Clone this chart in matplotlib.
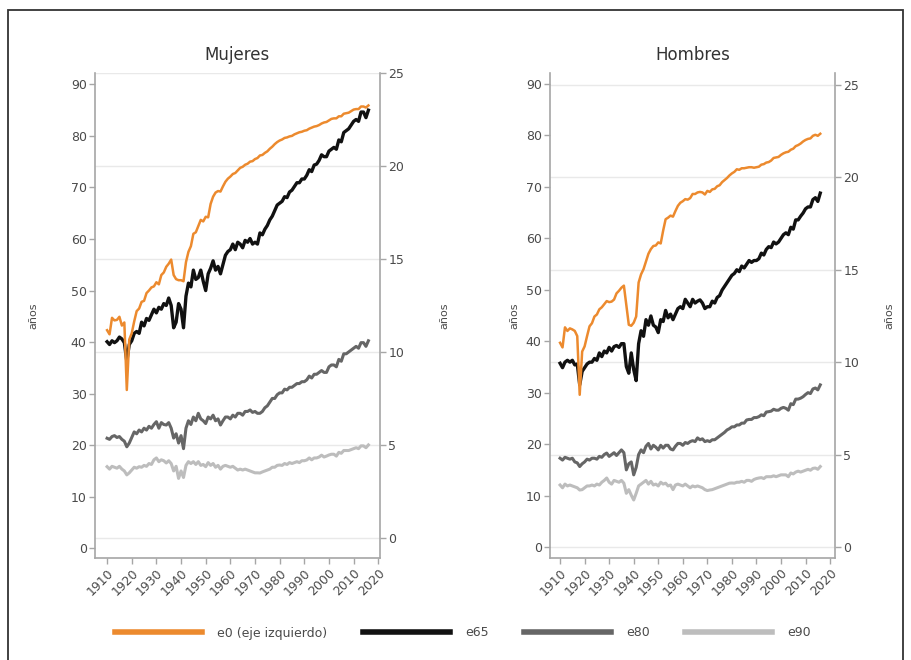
import matplotlib
matplotlib.use("Agg")
import matplotlib.pyplot as plt

# --- DATA: esperanza de vida, España 1910-2016 ---
years = list(range(1910, 2017))

mujeres_e0 = [
    42.3, 41.5, 44.7, 44.2, 44.3, 44.9, 43.2, 43.8, 30.7, 40.5,
    41.7, 44.0, 46.0, 46.5, 47.8, 48.0, 49.5, 50.0, 50.6, 50.8,
    51.6, 51.2, 53.0, 53.5, 54.6, 55.2, 56.0, 53.0, 52.2, 52.0,
    52.0, 51.8, 55.5, 57.5, 58.6, 61.0, 61.3, 62.5, 63.7, 63.4,
    64.3, 64.2, 66.8, 68.2, 69.0, 69.3, 69.2, 70.2, 71.1, 71.7,
    72.1, 72.6, 72.8, 73.3, 73.8, 74.0, 74.4, 74.6, 75.0, 75.1,
    75.5, 75.7, 76.2, 76.3, 76.7, 77.0, 77.5, 77.9, 78.4, 78.8,
    79.1, 79.3, 79.6, 79.7, 79.9, 80.0, 80.3, 80.5, 80.7, 80.8,
    81.0, 81.1, 81.4, 81.6, 81.8, 81.9, 82.1, 82.4, 82.6, 82.7,
    83.0, 83.3, 83.4, 83.4, 83.8, 83.8, 84.3, 84.4, 84.5, 84.8,
    85.1, 85.2, 85.2, 85.7, 85.7, 85.5, 85.9]
mujeres_e65 = [
    10.55, 10.4, 10.6, 10.5, 10.6, 10.8, 10.7, 10.5, 9.5, 10.4,
    10.6, 11.0, 11.1, 11.0, 11.6, 11.4, 11.8, 11.7, 12.0, 12.3,
    12.1, 12.4, 12.3, 12.6, 12.5, 12.9, 12.5, 11.3, 11.6, 12.6,
    12.3, 11.3, 13.0, 13.7, 13.5, 14.4, 13.9, 14.0, 14.4, 13.8,
    13.3, 14.2, 14.5, 14.9, 14.4, 14.6, 14.2, 14.7, 15.2, 15.4,
    15.5, 15.8, 15.5, 15.9, 15.8, 15.6, 16.0, 15.9, 16.1, 15.8,
    15.9, 15.8, 16.4, 16.3, 16.6, 16.8, 17.1, 17.3, 17.6, 17.9,
    18.0, 18.1, 18.35, 18.3, 18.6, 18.7, 18.9, 19.1, 19.1, 19.3,
    19.3, 19.5, 19.8, 19.7, 20.05, 20.1, 20.3, 20.6, 20.5, 20.5,
    20.8, 20.9, 21.0, 20.9, 21.4, 21.3, 21.8, 21.9, 22.0, 22.2,
    22.4, 22.5, 22.4, 22.9, 22.9, 22.6, 23.0]
mujeres_e80 = [
    5.36, 5.3, 5.45, 5.5, 5.4, 5.45, 5.3, 5.2, 4.9, 5.1,
    5.4, 5.7, 5.6, 5.8, 5.7, 5.9, 5.8, 6.0, 5.9, 6.1,
    6.25, 5.9, 6.2, 6.1, 6.07, 6.2, 5.9, 5.37, 5.6, 5.1,
    5.5, 4.8, 5.9, 6.3, 6.1, 6.5, 6.3, 6.7, 6.4, 6.3,
    6.15, 6.5, 6.4, 6.6, 6.3, 6.4, 6.07, 6.3, 6.5, 6.5,
    6.4, 6.6, 6.5, 6.7, 6.7, 6.6, 6.8, 6.8, 6.88, 6.75,
    6.8, 6.7, 6.7, 6.8, 7.0, 7.1, 7.3, 7.5, 7.5, 7.7,
    7.8, 7.8, 8.0, 7.96, 8.1, 8.1, 8.2, 8.3, 8.3, 8.4,
    8.4, 8.5, 8.7, 8.6, 8.8, 8.8, 8.9, 9.0, 8.9, 8.9,
    9.2, 9.3, 9.3, 9.2, 9.6, 9.5, 9.9, 9.9, 10.0, 10.1,
    10.2, 10.3, 10.2, 10.5, 10.5, 10.3, 10.6]
mujeres_e90 = [
    3.83, 3.7, 3.85, 3.8, 3.75, 3.85, 3.7, 3.6, 3.39, 3.5,
    3.65, 3.8, 3.75, 3.83, 3.8, 3.9, 3.85, 4.0, 3.95, 4.2,
    4.3, 4.1, 4.2, 4.15, 4.03, 4.15, 4.0, 3.6, 3.85, 3.2,
    3.6, 3.25, 3.9, 4.1, 4.0, 4.1, 3.95, 4.1, 3.9, 3.95,
    3.83, 4.05, 3.9, 4.0, 3.8, 3.9, 3.7, 3.85, 3.9, 3.85,
    3.8, 3.85, 3.75, 3.65, 3.7, 3.65, 3.7, 3.65, 3.6, 3.55,
    3.5, 3.5, 3.49, 3.55, 3.6, 3.65, 3.7, 3.8, 3.8, 3.9,
    3.92, 3.9, 4.0, 3.95, 4.05, 4.0, 4.05, 4.1, 4.05, 4.15,
    4.15, 4.19, 4.3, 4.2, 4.3, 4.3, 4.35, 4.45, 4.35, 4.4,
    4.46, 4.5, 4.5, 4.4, 4.6, 4.55, 4.7, 4.7, 4.7, 4.75,
    4.8, 4.85, 4.8, 4.95, 4.95, 4.85, 5.0]

hombres_e0 = [
    39.7, 38.8, 42.7, 42.0, 42.5, 42.3, 42.0, 41.0, 29.6, 38.0,
    39.0, 41.0, 42.9, 43.5, 44.8, 45.2, 46.2, 46.6, 47.2, 47.8,
    47.6, 47.7, 48.1, 49.3, 49.8, 50.4, 50.8, 47.0, 43.2, 43.0,
    43.6, 44.8, 51.4, 53.0, 54.0, 55.5, 57.0, 57.9, 58.5, 58.6,
    59.2, 59.0, 61.5, 63.7, 64.0, 64.4, 64.2, 65.3, 66.3, 66.9,
    67.2, 67.6, 67.5, 67.8, 68.6, 68.6, 68.9, 69.0, 68.9, 68.5,
    69.2, 69.0, 69.5, 69.6, 70.1, 70.3, 70.9, 71.3, 71.7, 72.2,
    72.6, 72.9, 73.4, 73.3, 73.6, 73.6, 73.7, 73.8, 73.8, 73.7,
    73.8, 73.9, 74.3, 74.4, 74.7, 74.8, 75.1, 75.6, 75.7, 75.8,
    76.2, 76.5, 76.7, 76.8, 77.2, 77.4, 77.9, 78.1, 78.4, 78.8,
    79.1, 79.3, 79.4, 79.9, 80.1, 79.9, 80.3]
hombres_e65 = [
    9.94, 9.7, 10.0, 10.1, 10.0, 10.1, 9.85, 9.9, 8.77, 9.5,
    9.7, 9.9, 10.0, 10.0, 10.2, 10.1, 10.5, 10.3, 10.6, 10.5,
    10.8, 10.6, 10.84, 10.9, 10.8, 11.0, 11.0, 9.76, 9.4, 10.5,
    9.6, 9.0, 11.0, 11.7, 11.4, 12.3, 12.0, 12.5, 12.0, 11.9,
    11.6, 12.3, 12.2, 12.8, 12.4, 12.6, 12.3, 12.6, 12.9, 13.0,
    12.9, 13.4, 13.2, 13.0, 13.4, 13.2, 13.3, 13.37, 13.2, 12.9,
    13.0, 13.0, 13.3, 13.2, 13.5, 13.6, 13.9, 14.1, 14.3, 14.5,
    14.7, 14.8, 15.0, 14.9, 15.2, 15.1, 15.3, 15.5, 15.4, 15.5,
    15.5, 15.6, 15.9, 15.8, 16.1, 16.25, 16.2, 16.5, 16.4, 16.5,
    16.7, 16.9, 17.0, 16.9, 17.3, 17.2, 17.7, 17.7, 17.9, 18.07,
    18.3, 18.4, 18.4, 18.8, 18.9, 18.7, 19.15]
hombres_e80 = [
    4.8, 4.7, 4.85, 4.8, 4.75, 4.8, 4.6, 4.55, 4.35, 4.5,
    4.6, 4.75, 4.7, 4.8, 4.8, 4.75, 4.9, 4.85, 5.0, 5.08,
    4.9, 5.0, 5.1, 4.95, 5.1, 5.25, 5.1, 4.17, 4.5, 4.6,
    3.9, 4.3, 5.0, 5.25, 5.1, 5.45, 5.6, 5.3, 5.5, 5.4,
    5.25, 5.5, 5.35, 5.5, 5.5, 5.3, 5.25, 5.45, 5.6, 5.6,
    5.5, 5.65, 5.6, 5.7, 5.75, 5.7, 5.9, 5.8, 5.85, 5.7,
    5.75, 5.7, 5.8, 5.8, 5.9, 6.0, 6.1, 6.2, 6.33, 6.4,
    6.5, 6.5, 6.6, 6.6, 6.7, 6.7, 6.87, 6.9, 6.9, 7.0,
    7.0, 7.05, 7.15, 7.1, 7.3, 7.32, 7.35, 7.45, 7.4, 7.4,
    7.5, 7.55, 7.5, 7.4, 7.75, 7.7, 8.0, 8.0, 8.05, 8.13,
    8.25, 8.35, 8.3, 8.55, 8.6, 8.5, 8.77]
hombres_e90 = [
    3.35, 3.2, 3.4, 3.3, 3.35, 3.3, 3.25, 3.2, 3.08, 3.1,
    3.2, 3.3, 3.3, 3.35, 3.3, 3.4, 3.35, 3.5, 3.6, 3.73,
    3.5, 3.4, 3.6, 3.55, 3.5, 3.6, 3.45, 2.9, 3.1, 2.8,
    2.54, 2.9, 3.3, 3.4, 3.5, 3.6, 3.4, 3.55, 3.35, 3.4,
    3.3, 3.5, 3.4, 3.45, 3.3, 3.35, 3.1, 3.35, 3.4, 3.35,
    3.3, 3.4, 3.3, 3.2, 3.3, 3.25, 3.3, 3.25, 3.2, 3.1,
    3.05, 3.08, 3.1, 3.15, 3.2, 3.25, 3.3, 3.35, 3.4, 3.45,
    3.46, 3.45, 3.5, 3.5, 3.55, 3.5, 3.6, 3.6, 3.55, 3.65,
    3.7, 3.73, 3.75, 3.7, 3.8, 3.8, 3.8, 3.85, 3.8, 3.85,
    3.9, 3.9, 3.9, 3.8, 4.0, 3.95, 4.05, 4.1, 4.05, 4.1,
    4.15, 4.2, 4.15, 4.25, 4.27, 4.2, 4.35]

left_ticks = list(range(0, 91, 10))
right_ticks = list(range(0, 26, 5))
x_ticks = list(range(1910, 2021, 10))

# --- STYLE ---
C_E0 = "#ec8a2e"
C_E65 = "#111111"
C_E80 = "#666666"
C_E90 = "#bdbdbd"
C_AXIS = "#a6a6a6"
C_TEXT = "#4a4a4a"
C_GRID = "#e9e9e9"

plt.rcParams["font.family"] = "DejaVu Sans"

fig = plt.figure(figsize=(9.12, 6.6), dpi=100)
W, H = 912, 660


def panel(x0, title, e0, e65, e80, e90, xlim, ylim_l, ylim_r, lab_l, lab_r):
    ax = fig.add_axes([x0 / W, (H - 558) / H, 285 / W, 485 / H])
    ax2 = ax.twinx()
    # left axis (e0) drawn above the right one so the orange line sits on top
    ax.set_zorder(ax2.get_zorder() + 1)
    ax.patch.set_visible(False)

    ax2.plot(years, e90, color=C_E90, lw=2.2)
    ax2.plot(years, e80, color=C_E80, lw=2.2)
    ax2.plot(years, e65, color=C_E65, lw=2.4)
    ax.plot(years, e0, color=C_E0, lw=1.8)

    ax.set_xlim(*xlim)
    ax.set_ylim(*ylim_l)
    ax2.set_ylim(*ylim_r)
    ax.set_yticks(left_ticks)
    ax2.set_yticks(right_ticks)
    ax.set_xticks(x_ticks)
    ax.set_xticklabels([str(t) for t in x_ticks], rotation=45,
                       ha="right", rotation_mode="anchor")

    ax2.yaxis.grid(True, color=C_GRID, lw=1.0)
    ax2.set_axisbelow(True)

    for a in (ax, ax2):
        a.spines["top"].set_visible(False)
        for s in a.spines.values():
            s.set_color(C_AXIS)
            s.set_linewidth(1.2)
        a.tick_params(colors=C_AXIS, labelcolor=C_TEXT, labelsize=9,
                      length=4, width=1.0, pad=2)
    ax.spines["right"].set_visible(False)
    ax2.spines["left"].set_visible(False)
    ax2.spines["bottom"].set_visible(False)

    ax.set_title(title, fontsize=12, color="#333333", pad=9)
    ax.set_ylabel("años", fontsize=8, color=C_TEXT)
    ax2.set_ylabel("años", fontsize=8, color=C_TEXT, rotation=90)
    ax.yaxis.set_label_coords(lab_l, 0.5)
    ax2.yaxis.set_label_coords(lab_r, 0.5)
    return ax


ax_m = panel(95, "Mujeres", mujeres_e0, mujeres_e65, mujeres_e80, mujeres_e90,
             (1905.1, 2020.7), (-1.9, 92.2), (-1.08, 25.0), -0.2, 1.21)
ax_h = panel(550, "Hombres", hombres_e0, hombres_e65, hombres_e80, hombres_e90,
             (1905.9, 2022.0), (-2.1, 92.1), (-0.6, 25.65), -0.109, 1.175)

# shared legend under both panels
handles = [plt.Line2D([], [], color=c, lw=4) for c in (C_E0, C_E65, C_E80, C_E90)]
labels = ["e0 (eje izquierdo)", "e65", "e80", "e90"]
fig.legend(handles, labels, loc="center", bbox_to_anchor=(463 / W, (H - 633) / H),
           ncol=4, frameon=False, fontsize=9, labelcolor=C_TEXT,
           handlelength=7.0, handletextpad=1.2, columnspacing=2.8)

# outer frame
fig.add_artist(plt.Rectangle((8 / W, -0.02), (903 - 8) / W, (H - 10) / H + 0.02,
                             transform=fig.transFigure, fill=False,
                             ec="#333333", lw=1.3))

fig.savefig("out.png", dpi=100, facecolor="white")
